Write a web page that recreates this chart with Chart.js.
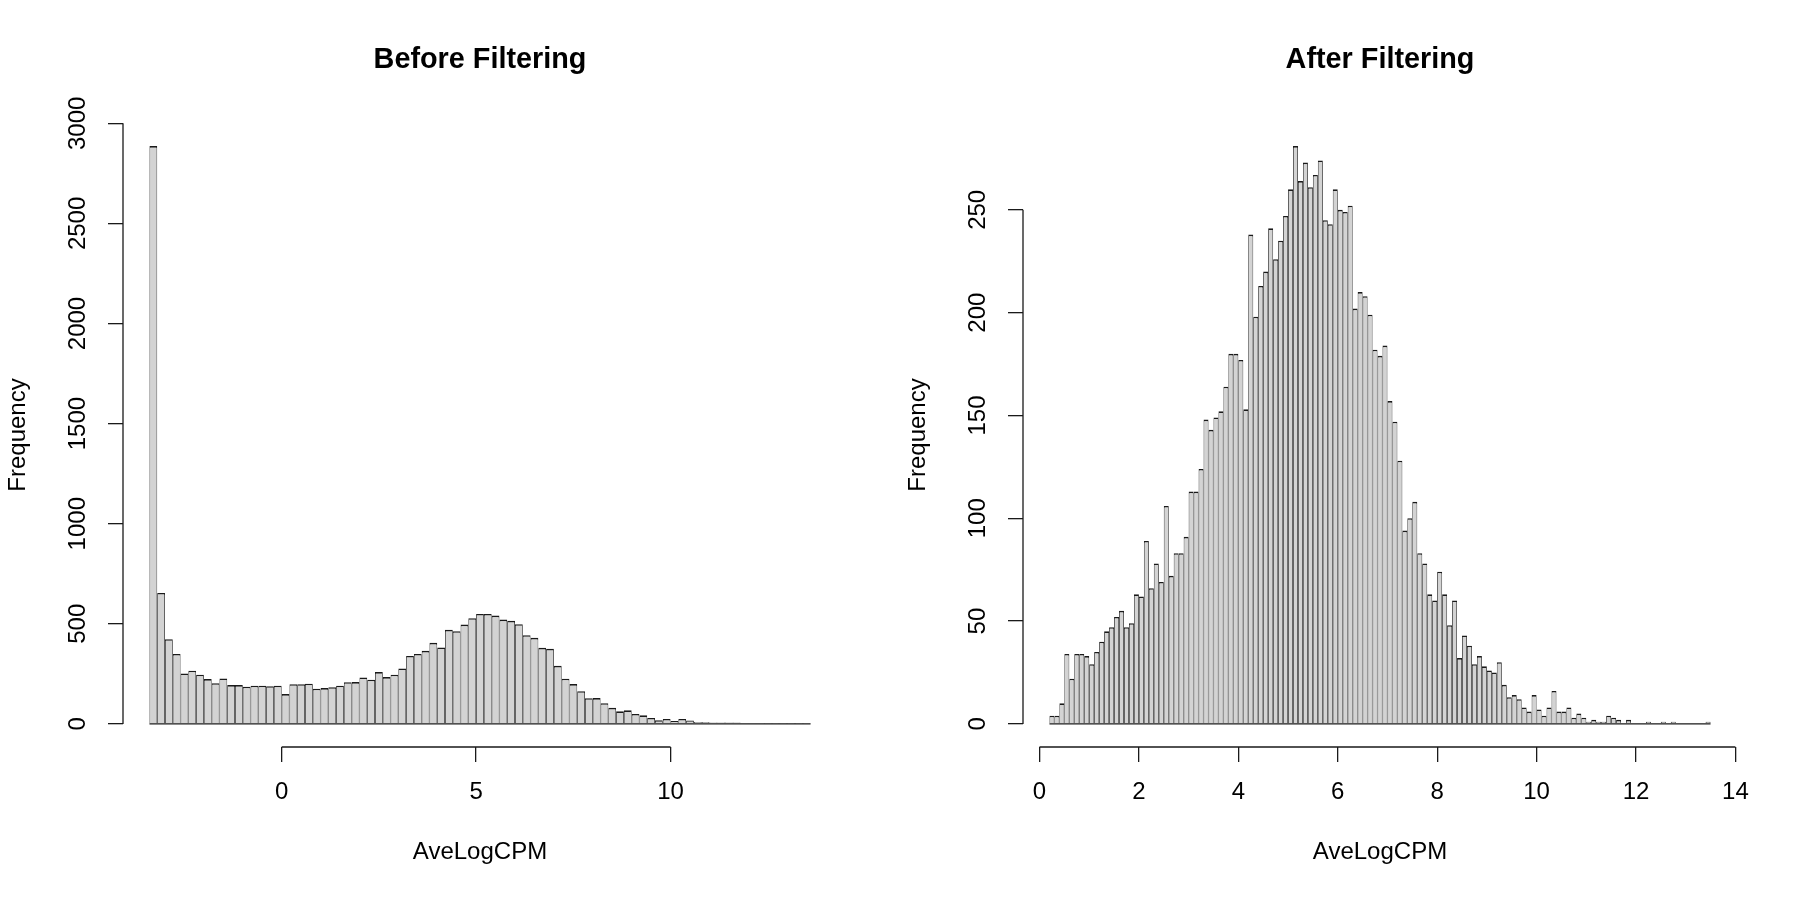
<!DOCTYPE html>
<html>
<head>
<meta charset="utf-8">
<title>AveLogCPM before / after filtering</title>
<script src="https://cdn.jsdelivr.net/npm/chart.js@4.4.1/dist/chart.umd.min.js"></script>
<style>
  html, body { margin: 0; padding: 0; background: #fff; }
  #wrap { display: flex; width: 1800px; height: 900px; }
  canvas { display: block; }
</style>
</head>
<body>
<div id="wrap">
  <canvas id="beforeChart" width="900" height="900"></canvas>
  <canvas id="afterChart" width="900" height="900"></canvas>
</div>
<script>
// ================================
// Data
// ================================
const beforeTitle = "Before Filtering";
const beforeBreakStart = -3.4;
const beforeBinWidth = 0.2;
const beforeCounts = [
  2886, 654, 423, 349, 252, 266, 246, 224, 203, 227,
  194, 194, 186, 191, 191, 188, 191, 149, 198, 198,
  201, 176, 179, 183, 191, 208, 209, 232, 221, 259,
  234, 246, 277, 339, 349, 365, 405, 382, 470, 463,
  496, 528, 549, 549, 541, 521, 515, 498, 443, 430,
  380, 375, 290, 226, 199, 163, 128, 129, 103, 80,
  63, 68, 50, 43, 30, 18, 25, 15, 25, 17,
  10, 10, 7, 7, 7, 7, 3, 2, 2, 1,
  1, 1, 1, 1, 1
];
const beforeXTicks = [0, 5, 10];
const beforeYTicks = [0, 500, 1000, 1500, 2000, 2500, 3000];

const afterTitle = "After Filtering";
const afterBreakStart = 0.2;
const afterBinWidth = 0.1;
const afterCounts = [
  4, 4, 10, 34, 22, 34, 34, 33, 29, 35,
  40, 45, 47, 52, 55, 47, 49, 63, 62, 89,
  66, 78, 69, 106, 72, 83, 83, 91, 113, 113,
  124, 148, 143, 149, 152, 164, 180, 180, 177, 153,
  238, 198, 213, 220, 241, 226, 235, 247, 260, 281,
  264, 273, 261, 267, 274, 245, 243, 260, 250, 249,
  252, 202, 210, 208, 199, 182, 179, 184, 157, 147,
  128, 94, 100, 108, 83, 78, 63, 60, 74, 63,
  48, 60, 32, 43, 38, 29, 33, 28, 26, 25,
  30, 19, 13, 14, 12, 8, 6, 14, 7, 4,
  8, 16, 6, 6, 8, 3, 5, 3, 1, 2,
  1, 1, 4, 3, 2, 0, 2, 0, 0, 0,
  1, 0, 0, 1, 0, 1, 0, 0, 0, 0,
  0, 0, 1
];
const afterXTicks = [0, 2, 4, 6, 8, 10, 12, 14];
const afterYTicks = [0, 50, 100, 150, 200, 250];

const xLabel = "AveLogCPM";
const yLabel = "Frequency";

// ================================
// Look (R base graphics style)
// ================================
const FONT_FAMILY = '"Liberation Sans", Arial, Helvetica, sans-serif';
const AXIS_FONT = 24;
const TITLE_FONT = 28.8;
const MARGIN = { left: 123, right: 63, top: 123, bottom: 153 };
const TICK_LEN = 15;
const LINE_W = 1.3;
const BAR_LINE_W = 1.6;
const Y_LABEL_CENTER = 78;
const BAR_FILL = "#d3d3d3";
const INK = "#1a1a1a";

function widestLabel(labels) {
  const ctx = document.createElement("canvas").getContext("2d");
  ctx.font = `${AXIS_FONT}px ${FONT_FAMILY}`;
  return Math.max(...labels.map(l => ctx.measureText(String(l)).width));
}

// axis line only between first and last tick, plus the baseline under the bins
const rAxisPlugin = {
  id: "rAxis",
  afterDraw(chart, args, opts) {
    const { ctx } = chart;
    const x = chart.scales.x;
    const y = chart.scales.y;
    const xt = x.ticks;
    const yt = y.ticks;
    ctx.save();
    ctx.strokeStyle = INK;
    ctx.lineWidth = LINE_W;
    ctx.beginPath();
    ctx.moveTo(x.getPixelForValue(xt[0].value), x.top);
    ctx.lineTo(x.getPixelForValue(xt[xt.length - 1].value), x.top);
    ctx.moveTo(y.right, y.getPixelForValue(yt[0].value));
    ctx.lineTo(y.right, y.getPixelForValue(yt[yt.length - 1].value));
    ctx.moveTo(x.getPixelForValue(opts.from), y.getPixelForValue(0));
    ctx.lineTo(x.getPixelForValue(opts.to), y.getPixelForValue(0));
    ctx.stroke();
    ctx.restore();
  }
};

function makeHistogram(canvasId, title, breakStart, binWidth, counts, xTicks, yTicks) {
  const breakEnd = breakStart + counts.length * binWidth;
  const xPad = 0.04 * (breakEnd - breakStart);
  const yMax = Math.max(...counts);
  const points = counts.map((c, i) => ({ x: breakStart + (i + 0.5) * binWidth, y: c }));
  const font = { family: FONT_FAMILY, size: AXIS_FONT };
  const yTickPad = MARGIN.left - TICK_LEN - widestLabel(yTicks) / 2 - Y_LABEL_CENTER;
  const tickGrid = {
    display: true, drawOnChartArea: false, drawTicks: true, offset: false,
    tickLength: TICK_LEN, color: INK, lineWidth: LINE_W
  };

  return new Chart(document.getElementById(canvasId), {
    type: "bar",
    data: {
      datasets: [{
        data: points,
        backgroundColor: BAR_FILL,
        borderColor: INK,
        borderWidth: { top: BAR_LINE_W, left: BAR_LINE_W / 2, right: BAR_LINE_W / 2, bottom: 0 },
        inflateAmount: 0,
        barPercentage: 1,
        categoryPercentage: 1
      }]
    },
    options: {
      responsive: false,
      animation: false,
      devicePixelRatio: 1,
      layout: { padding: { left: 0, top: 0, bottom: 0, right: MARGIN.right } },
      plugins: {
        legend: { display: false },
        tooltip: { enabled: false },
        title: {
          display: true, text: title, color: "#000", fullSize: false,
          font: { family: FONT_FAMILY, size: TITLE_FONT, weight: "bold" },
          padding: { top: 42.7, bottom: MARGIN.top - 42.7 - TITLE_FONT * 1.2 }
        },
        rAxis: { from: breakStart, to: breakEnd }
      },
      scales: {
        x: {
          type: "linear",
          offset: false,
          min: breakStart - xPad,
          max: breakEnd + xPad,
          afterBuildTicks: s => { s.ticks = xTicks.map(v => ({ value: v })); },
          afterFit: s => { s.height = MARGIN.bottom; },
          grid: tickGrid,
          border: { display: false },
          ticks: { color: "#000", font, padding: 16.3, autoSkip: false, maxRotation: 0, callback: v => String(v) },
          title: { display: true, text: xLabel, color: "#000", font, padding: { top: 0, bottom: 33.3 } }
        },
        y: {
          type: "linear",
          min: -0.04 * yMax,
          max: 1.04 * yMax,
          afterBuildTicks: s => { s.ticks = yTicks.map(v => ({ value: v })); },
          afterFit: s => { s.width = MARGIN.left; },
          grid: tickGrid,
          border: { display: false },
          ticks: {
            color: "#000", font, autoSkip: false,
            minRotation: 90, maxRotation: 90, crossAlign: "center",
            padding: yTickPad, callback: v => String(v)
          },
          title: { display: true, text: yLabel, color: "#000", font, padding: { top: 4, bottom: 0 } }
        }
      }
    },
    plugins: [rAxisPlugin]
  });
}

makeHistogram("beforeChart", beforeTitle, beforeBreakStart, beforeBinWidth, beforeCounts, beforeXTicks, beforeYTicks);
makeHistogram("afterChart", afterTitle, afterBreakStart, afterBinWidth, afterCounts, afterXTicks, afterYTicks);
</script>
</body>
</html>
